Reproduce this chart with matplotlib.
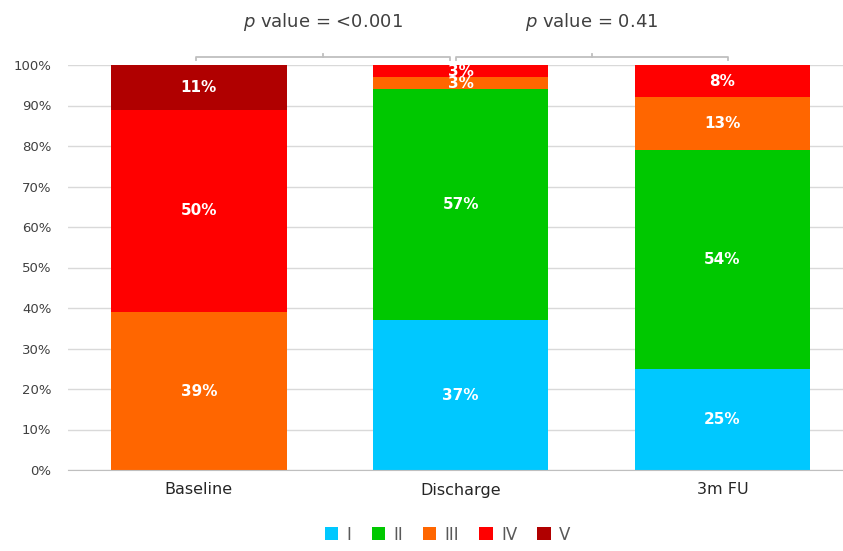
import matplotlib
matplotlib.use('Agg')
import matplotlib.pyplot as plt
import numpy as np

categories = ['Baseline', 'Discharge', '3m FU']
classes = ['I', 'II', 'III', 'IV', 'V']
class_I = [0, 37, 25]
class_II = [0, 57, 54]
class_III = [39, 3, 13]
class_IV = [50, 3, 8]
class_V = [11, 0, 0]
colors = ['#00C8FF', '#00C800', '#FF6600', '#FF0000', '#B00000']
p_labels = ['<0.001', '0.41']

series = [class_I, class_II, class_III, class_IV, class_V]

plt.rcParams['font.family'] = ['DejaVu Sans']
fig = plt.figure(figsize=(8.43, 5.51), dpi=100)
ax = fig.add_axes([68 / 843, 1 - 470 / 551, 1 - 68 / 843, (470 - 65) / 551])

x = np.arange(len(categories))
bottom = np.zeros(len(categories))
handles = []
for vals, col, name in zip(series, colors, classes):
    vals = np.array(vals, dtype=float)
    h = ax.bar(x, vals, 0.67, bottom=bottom, color=col, label=name, zorder=2)
    handles.append(h)
    for xi, v, b in zip(x, vals, bottom):
        if v > 0:
            ax.text(xi, b + v / 2, f'{int(v)}%', ha='center', va='center',
                    color='white', fontsize=11, fontweight='bold', zorder=3)
    bottom += vals

ax.set_xlim(-0.5, 2.46)
ax.set_ylim(0, 100)
ax.set_yticks(np.arange(0, 101, 10))
ax.set_yticklabels([f'{v}%' for v in range(0, 101, 10)], fontsize=9.5, color='#404040')
ax.set_xticks(x)
ax.set_xticklabels(categories, fontsize=11.5, color='#262626')
ax.tick_params(axis='both', length=0)
ax.tick_params(axis='x', pad=9)
ax.tick_params(axis='y', pad=12)
ax.grid(axis='y', color='#D9D9D9', linewidth=1, zorder=0)
for s in ['top', 'right', 'left']:
    ax.spines[s].set_visible(False)
ax.spines['bottom'].set_color('#BFBFBF')

# significance brackets
brackets = [(-0.01, 0.96), (0.98, 2.02)]
for (x0, x1), p in zip(brackets, p_labels):
    xm = (x0 + x1) / 2
    ax.plot([x0, x0, x1, x1], [101.2, 102, 102, 101.2], color='#BFBFBF',
            lw=1.3, clip_on=False)
    ax.plot([xm, xm], [102, 102.8], color='#BFBFBF', lw=1.3, clip_on=False)
    ax.text(xm, 110.6, f'$p$ value = {p}', ha='center', va='center',
            fontsize=13, color='#404040', clip_on=False)

ax.legend(handles=handles, labels=classes, loc='upper center',
          bbox_to_anchor=(0.5 - 0.01, -0.1), ncol=5, frameon=False,
          fontsize=12, handlelength=0.8, handleheight=0.8, handletextpad=0.5,
          columnspacing=1.2, labelcolor='#595959')

fig.savefig('out.png', dpi=100)
